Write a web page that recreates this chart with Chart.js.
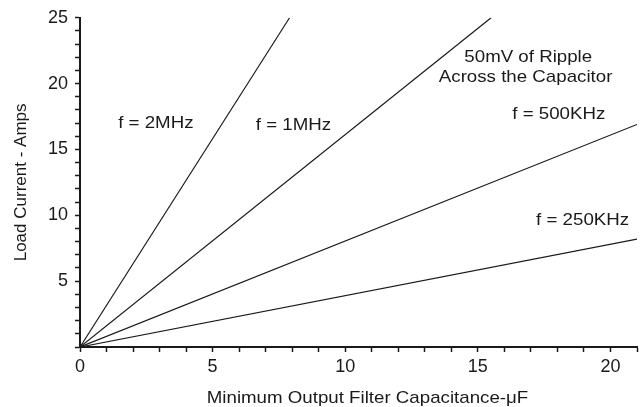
<!DOCTYPE html>
<html>
<head>
<meta charset="utf-8">
<script src="https://cdn.jsdelivr.net/npm/chart.js@4.4.1/dist/chart.umd.min.js"></script>
<style>
  html, body { margin: 0; padding: 0; background: #fff; }
  #wrap { width: 642px; height: 407px; position: relative; }
</style>
</head>
<body>
<div id="wrap"><canvas id="chart"></canvas></div>
<script>
// ── Data ────────────────────────────────────────────────────────────

// capacitance (uF) -> load current (A), straight lines from the origin
const CAP_2MHZ   = [0, 7.9];
const AMPS_2MHZ  = [0, 25];
const CAP_1MHZ   = [0, 15.5];
const AMPS_1MHZ  = [0, 25];
const CAP_500K   = [0, 21];
const AMPS_500K  = [0, 16.9];
const CAP_250K   = [0, 21];
const AMPS_250K  = [0, 8.2];

const X_MAX = 21;
const Y_MAX = 25;
const X_LABELS = [0, 5, 10, 15, 20];
const Y_LABELS = [5, 10, 15, 20, 25];

const X_TITLE = 'Minimum Output Filter Capacitance-\u03BCF';
const Y_TITLE = 'Load Current - Amps';

// text notes placed in data units
const NOTES = [
  { text: 'f = 2MHz',             x: 2.86,  y: 17.0 },
  { text: 'f = 1MHz',             x: 8.05,  y: 16.8 },
  { text: '50mV of Ripple',       x: 16.9,  y: 22.0 },
  { text: 'Across the Capacitor', x: 16.8,  y: 20.45 },
  { text: 'f = 500KHz',           x: 18.05, y: 17.7 },
  { text: 'f = 250KHz',           x: 18.95, y: 9.6 },
];

// ── Style ───────────────────────────────────────────────────────────

const INK = '#1a1a1a';
const FONT = '"Liberation Sans", Arial, sans-serif';

function toPoints(xs, ys) {
  return xs.map((x, i) => ({ x, y: ys[i] }));
}

function lineSet(label, xs, ys) {
  return {
    label,
    data: toPoints(xs, ys),
    showLine: true,
    borderColor: INK,
    borderWidth: 1.2,
    pointRadius: 0,
    fill: false,
  };
}

// slightly widened text, like the scanned original
function drawWide(ctx, text, cx, cy) {
  ctx.save();
  ctx.translate(cx, cy);
  ctx.scale(1.1, 1);
  ctx.fillText(text, 0, 0);
  ctx.restore();
}

const notesPlugin = {
  id: 'notes',
  afterDraw(chart) {
    const { ctx, chartArea } = chart;
    const xs = chart.scales.x, ys = chart.scales.y;
    ctx.save();
    ctx.fillStyle = INK;
    ctx.font = '17px ' + FONT;
    ctx.textAlign = 'center';
    ctx.textBaseline = 'middle';
    NOTES.forEach(n => {
      drawWide(ctx, n.text, xs.getPixelForValue(n.x), ys.getPixelForValue(n.y));
    });
    // axis titles
    drawWide(ctx, X_TITLE, (chartArea.left + chartArea.right) / 2 + 9, chartArea.bottom + 51);
    ctx.translate(21, (chartArea.top + chartArea.bottom) / 2);
    ctx.rotate(-Math.PI / 2);
    ctx.fillText(Y_TITLE, 0, 0);
    ctx.restore();
  }
};

// ── Chart ───────────────────────────────────────────────────────────

new Chart(document.getElementById('chart'), {
  type: 'scatter',
  data: {
    datasets: [
      lineSet('2MHz', CAP_2MHZ, AMPS_2MHZ),
      lineSet('1MHz', CAP_1MHZ, AMPS_1MHZ),
      lineSet('500KHz', CAP_500K, AMPS_500K),
      lineSet('250KHz', CAP_250K, AMPS_250K),
    ],
  },
  options: {
    responsive: true,
    maintainAspectRatio: false,
    animation: false,
    layout: { padding: { top: 17, right: 5, left: 0, bottom: 0 } },
    scales: {
      x: {
        type: 'linear',
        min: 0,
        max: X_MAX,
        afterFit: s => { s.height = 60; },
        border: { color: INK, width: 2 },
        grid: { drawOnChartArea: false, drawTicks: true, tickLength: 5, tickWidth: 1.5, color: INK },
        ticks: {
          stepSize: 1,
          autoSkip: false,
          maxTicksLimit: 40,
          maxRotation: 0,
          padding: 4,
          color: INK,
          font: { family: FONT, size: 18 },
          callback: v => X_LABELS.includes(v) ? String(v) : '',
        },
      },
      y: {
        type: 'linear',
        min: 0,
        max: Y_MAX,
        afterFit: s => { s.width = 80; },
        border: { color: INK, width: 2 },
        grid: { drawOnChartArea: false, drawTicks: true, tickLength: 5, tickWidth: 1.5, color: INK },
        ticks: {
          stepSize: 1,
          autoSkip: false,
          maxTicksLimit: 40,
          padding: 7,
          color: INK,
          font: { family: FONT, size: 18 },
          callback: v => Y_LABELS.includes(v) ? String(v) : '',
        },
      },
    },
    plugins: {
      legend: { display: false },
      tooltip: { enabled: false },
    },
  },
  plugins: [notesPlugin],
});
</script>
</body>
</html>
